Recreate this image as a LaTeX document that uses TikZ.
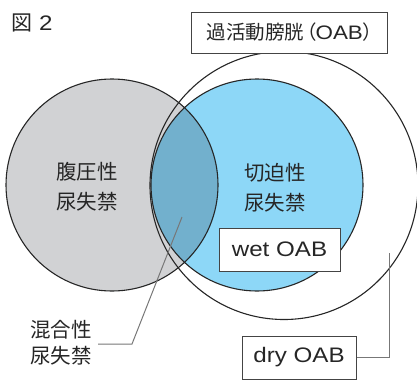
\documentclass[tikz,border=0pt]{standalone}
\usepackage{fontspec}
\setmainfont{Noto Sans CJK JP}
\newfontfamily\latinf[FakeStretch=1.15]{Liberation Sans}
\definecolor{grayfill}{HTML}{D1D2D4}
\definecolor{bluefill}{HTML}{8DD7F7}
\definecolor{mixfill}{HTML}{72B0CD}
\definecolor{boxline}{HTML}{444444}
\definecolor{leadline}{HTML}{777777}
\begin{document}
\begin{tikzpicture}[x=1pt,y=-1pt,
  lbl/.style={font=\fontsize{20.5}{30}\selectfont, text=black!85, align=center, inner sep=0pt},
  tagbox/.style={draw=boxline, line width=1pt, fill=white, inner sep=0pt, font=\fontsize{21}{24}\selectfont, text=black!85},
  circ/.style={draw=black!85, line width=1.1pt},
  lead/.style={draw=leadline, line width=1pt}]
\useasboundingbox (0,0) rectangle (417,383);
% fills
\fill[grayfill] (112,185) circle[radius=106pt];
\fill[bluefill] (257,185) circle[radius=106pt];
\begin{scope}
  \clip (112,185) circle[radius=106pt];
  \fill[mixfill] (257,185) circle[radius=106pt];
\end{scope}
% outlines
\draw[circ] (112,185) circle[radius=106pt];
\draw[circ] (257,185) circle[radius=106pt];
\draw[circ] (284,185.5) circle[radius=134pt];
% title
\node[lbl, anchor=west, font=\fontsize{21}{24}\selectfont] (fig) at (11,23) {図\hspace{7pt}{\latinf 2}};
% boxes
\node[tagbox, minimum width=196pt, minimum height=41pt, font=\fontsize{19.5}{24}\selectfont] (oab) at (289,32.5) {\kern2pt過活動膀胱\kern-7pt（\kern-1pt{\latinf OAB}）\kern-9pt};
\node[tagbox, minimum width=121pt, minimum height=43pt] (wet) at (279.5,249.5) {\latinf wet OAB};
\node[tagbox, minimum width=114pt, minimum height=43pt] (dry) at (299,357.5) {\latinf dry OAB};
% labels
\node[lbl] (stress) at (87,187) {腹圧性\\尿失禁};
\node[lbl] (urge) at (275,188) {切迫性\\尿失禁};
\node[lbl, align=left, anchor=east, font=\fontsize{20.5}{26}\selectfont] (mixed) at (92,343) {混合性\\尿失禁};
% leaders
\coordinate (mixpt) at (182,217);
\coordinate (mixcorner) at (132,344);
\draw[lead] (mixed.east |- mixcorner) ++(6,0) -- (mixcorner) -- (mixpt);
\coordinate (drypt) at (389,253);
\draw[lead] (dry.east) -| (drypt);
\end{tikzpicture}
\end{document}
